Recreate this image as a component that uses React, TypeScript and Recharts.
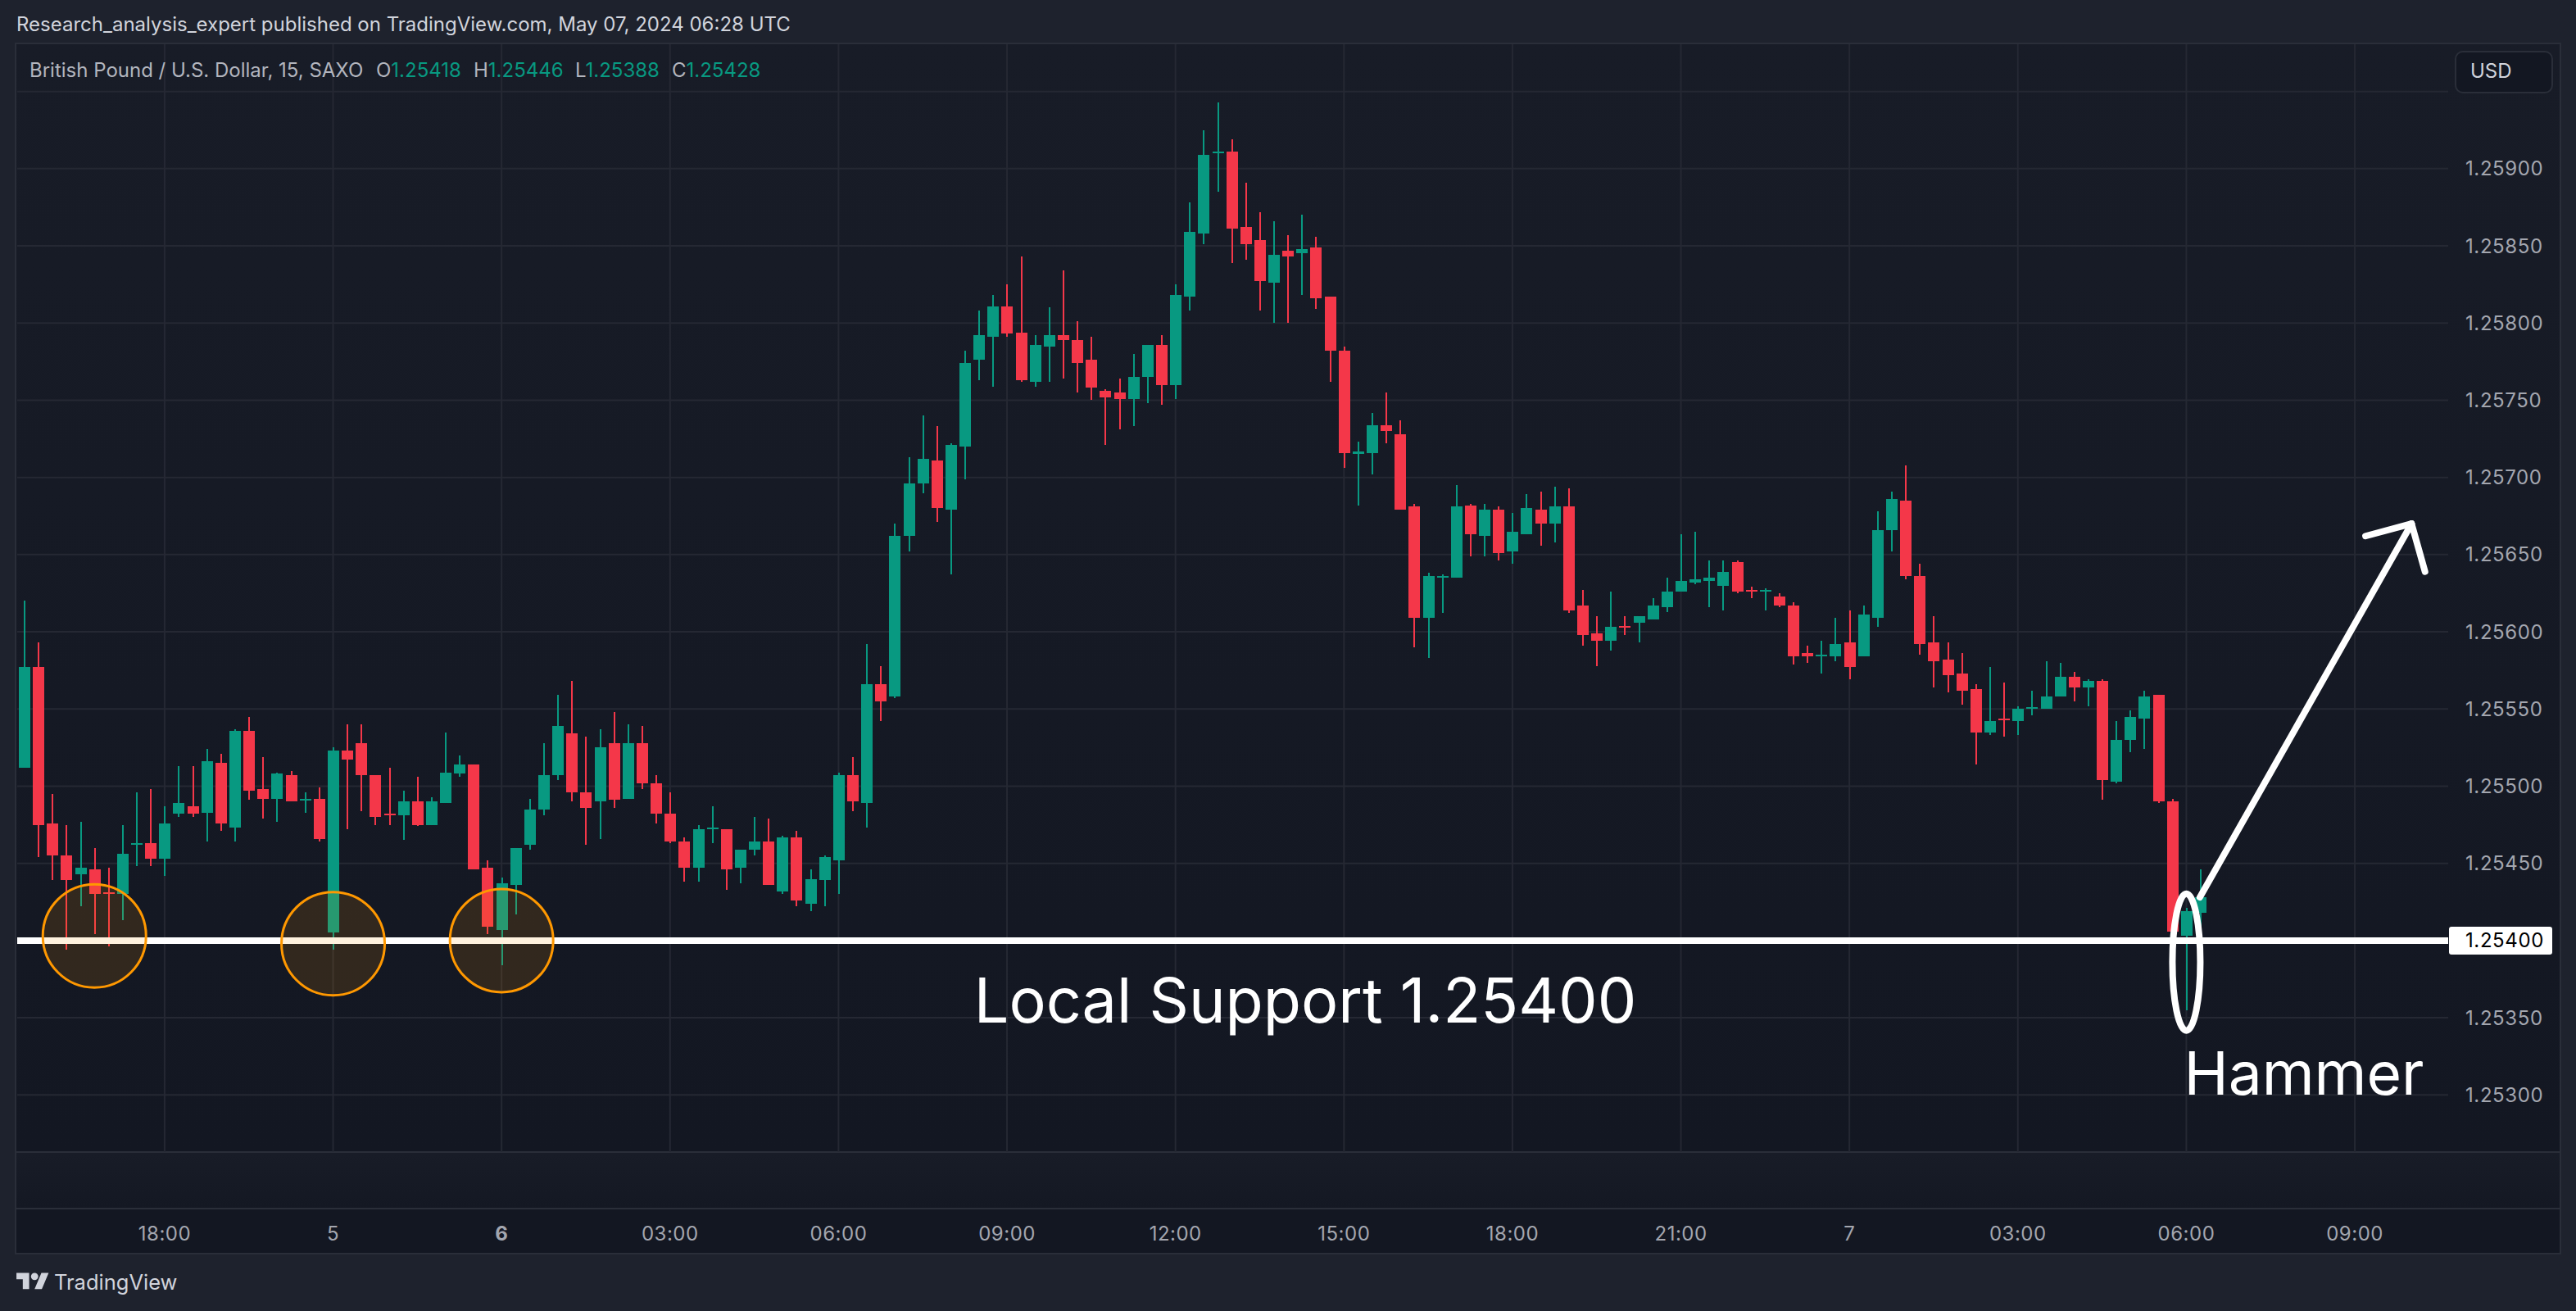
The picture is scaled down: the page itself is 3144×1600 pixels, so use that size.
import {
  Bar,
  CartesianGrid,
  ComposedChart,
  ReferenceDot,
  ReferenceLine,
  XAxis,
  YAxis,
} from "recharts";

const opens = [
  1.25512, 1.25577, 1.25476, 1.25455, 1.25443, 1.25446, 1.25431, 1.2543, 1.25462, 1.25463,
  1.25453, 1.25482, 1.25487, 1.25483, 1.25515, 1.25473, 1.25536, 1.25498, 1.25492, 1.25507,
  1.25491, 1.25492, 1.25405, 1.25523, 1.25528, 1.25507, 1.25482, 1.25481, 1.2549, 1.25475,
  1.25489, 1.25508, 1.25514, 1.25447, 1.25407, 1.25436, 1.25462, 1.25485, 1.25507, 1.25534,
  1.25496, 1.2549, 1.25528, 1.25492, 1.25528, 1.25502, 1.25482, 1.25464, 1.25447, 1.25472,
  1.25472, 1.25447, 1.25459, 1.25464, 1.25432, 1.25467, 1.25424, 1.25439, 1.25452, 1.25507,
  1.25489, 1.25566, 1.25558, 1.25662, 1.25696, 1.25711, 1.25679, 1.2572, 1.25776, 1.25791,
  1.25811, 1.25794, 1.25762, 1.25785, 1.25792, 1.25789, 1.25776, 1.25756, 1.25755, 1.25751,
  1.25765, 1.25786, 1.2576, 1.25817, 1.25858, 1.2591, 1.25911, 1.25862, 1.25854, 1.25826,
  1.25847, 1.25845, 1.25849, 1.25817, 1.25782, 1.25715, 1.25716, 1.25734, 1.25728, 1.25681,
  1.25609, 1.25635, 1.25635, 1.25682, 1.25662, 1.25679, 1.25652, 1.25663, 1.25679, 1.2567,
  1.25681, 1.25617, 1.25599, 1.25594, 1.25604, 1.25606, 1.25608, 1.25616, 1.25626, 1.25632,
  1.25633, 1.2563, 1.25645, 1.25627, 1.25626, 1.25623, 1.25617, 1.25586, 1.25584, 1.25584,
  1.25593, 1.25584, 1.25609, 1.25666, 1.25685, 1.25636, 1.25593, 1.25582, 1.25573, 1.25563,
  1.25535, 1.25544, 1.25542, 1.2555, 1.2555, 1.25558, 1.25571, 1.25564, 1.25568, 1.25503,
  1.2553, 1.25544, 1.25559, 1.2549, 1.25403, 1.25418,
];

const highs = [
  1.2562, 1.25593, 1.25495, 1.25475, 1.25477, 1.2546, 1.25447, 1.25475, 1.25496, 1.25498,
  1.25487, 1.25513, 1.25513, 1.25524, 1.25521, 1.25537, 1.25545, 1.25519, 1.25509, 1.2551,
  1.25496, 1.25499, 1.25525, 1.2554, 1.2554, 1.25507, 1.25512, 1.25497, 1.25506, 1.25493,
  1.25535, 1.2552, 1.25514, 1.25452, 1.25441, 1.2546, 1.25492, 1.25528, 1.25559, 1.25568,
  1.25532, 1.25537, 1.25548, 1.2554, 1.25539, 1.25507, 1.25496, 1.25467, 1.25475, 1.25487,
  1.25472, 1.25459, 1.2548, 1.25479, 1.25468, 1.25471, 1.25446, 1.25455, 1.25509, 1.25519,
  1.25592, 1.25578, 1.2567, 1.25713, 1.2574, 1.25733, 1.25722, 1.25782, 1.25808, 1.25818,
  1.25825, 1.25843, 1.25792, 1.2581, 1.25834, 1.25801, 1.25791, 1.25757, 1.25764, 1.2578,
  1.25786, 1.25792, 1.25825, 1.25878, 1.25925, 1.25943, 1.25919, 1.25891, 1.25872, 1.25866,
  1.25857, 1.2587, 1.25856, 1.25817, 1.25785, 1.25723, 1.25742, 1.25755, 1.25737, 1.25683,
  1.25638, 1.25637, 1.25695, 1.25683, 1.25683, 1.25681, 1.25677, 1.25689, 1.25691, 1.25694,
  1.25693, 1.25627, 1.2561, 1.25626, 1.2561, 1.2561, 1.25622, 1.25635, 1.25663, 1.25665,
  1.25646, 1.25646, 1.25646, 1.25629, 1.25628, 1.25625, 1.25619, 1.25591, 1.25594, 1.25609,
  1.25614, 1.25617, 1.25678, 1.25691, 1.25708, 1.25644, 1.2561, 1.25593, 1.25586, 1.25566,
  1.25577, 1.25567, 1.25552, 1.25562, 1.25581, 1.2558, 1.25574, 1.25569, 1.25569, 1.25542,
  1.25549, 1.25562, 1.25559, 1.25492, 1.25421, 1.25446,
];

const lows = [
  1.25512, 1.25454, 1.25439, 1.25394, 1.25422, 1.25404, 1.25396, 1.25413, 1.25448, 1.25448,
  1.25442, 1.2548, 1.2548, 1.25464, 1.25471, 1.25464, 1.25491, 1.25479, 1.25477, 1.2549,
  1.25483, 1.25464, 1.25394, 1.25472, 1.25484, 1.25475, 1.25475, 1.25465, 1.25474, 1.25475,
  1.25489, 1.25506, 1.25446, 1.25404, 1.25384, 1.25417, 1.25459, 1.25481, 1.25504, 1.2549,
  1.25462, 1.25466, 1.25486, 1.25492, 1.25498, 1.25476, 1.25463, 1.25438, 1.25438, 1.25463,
  1.25433, 1.25437, 1.25455, 1.25436, 1.2543, 1.25422, 1.25419, 1.25422, 1.2543, 1.25484,
  1.25473, 1.25542, 1.25557, 1.25652, 1.2569, 1.25671, 1.25637, 1.25699, 1.25763, 1.25759,
  1.25791, 1.25762, 1.25759, 1.25762, 1.25764, 1.25755, 1.2575, 1.25721, 1.25731, 1.25733,
  1.25748, 1.25747, 1.25751, 1.25808, 1.25851, 1.25885, 1.25839, 1.25841, 1.25808, 1.258,
  1.258, 1.25818, 1.25809, 1.25762, 1.25706, 1.25682, 1.25702, 1.25722, 1.25679, 1.2559,
  1.25583, 1.25612, 1.25635, 1.25649, 1.25649, 1.25646, 1.25644, 1.25663, 1.25656, 1.25658,
  1.25612, 1.25591, 1.25578, 1.25588, 1.25598, 1.25593, 1.25608, 1.25613, 1.25626, 1.25631,
  1.25616, 1.25614, 1.25625, 1.25622, 1.25614, 1.25616, 1.25579, 1.2558, 1.25573, 1.25581,
  1.25569, 1.25584, 1.25603, 1.25652, 1.25634, 1.25585, 1.25564, 1.25561, 1.25553, 1.25514,
  1.25533, 1.25532, 1.25533, 1.25546, 1.2555, 1.25558, 1.25555, 1.25552, 1.25491, 1.25502,
  1.25522, 1.25524, 1.25489, 1.25406, 1.25355, 1.25388,
];

const closes = [
  1.25577, 1.25475, 1.25455, 1.25439, 1.25447, 1.2543, 1.2543, 1.25456, 1.25463, 1.25453,
  1.25476, 1.25489, 1.25482, 1.25516, 1.25476, 1.25536, 1.25497, 1.25492, 1.25508, 1.2549,
  1.25492, 1.25466, 1.25523, 1.25517, 1.25507, 1.2548, 1.25481, 1.2549, 1.25475, 1.2549,
  1.25509, 1.25514, 1.25446, 1.25409, 1.25437, 1.2546, 1.25485, 1.25507, 1.25539, 1.25496,
  1.25486, 1.25525, 1.25491, 1.25528, 1.25502, 1.25482, 1.25464, 1.25447, 1.25472, 1.25473,
  1.25446, 1.25459, 1.25464, 1.25436, 1.25467, 1.25426, 1.2544, 1.25454, 1.25507, 1.2549,
  1.25566, 1.25555, 1.25662, 1.25696, 1.25712, 1.2568, 1.25721, 1.25774, 1.25792, 1.25811,
  1.25793, 1.25763, 1.25786, 1.25792, 1.25789, 1.25774, 1.25758, 1.25752, 1.25751, 1.25765,
  1.25786, 1.2576, 1.25818, 1.25859, 1.25909, 1.25911, 1.25861, 1.25851, 1.25827, 1.25844,
  1.25843, 1.25848, 1.25816, 1.25782, 1.25716, 1.25717, 1.25734, 1.2573, 1.25679, 1.25609,
  1.25636, 1.25636, 1.25681, 1.25663, 1.25679, 1.25651, 1.25665, 1.2568, 1.2567, 1.25681,
  1.25614, 1.25598, 1.25594, 1.25603, 1.25603, 1.2561, 1.25617, 1.25626, 1.25633, 1.25634,
  1.25635, 1.25639, 1.25626, 1.25626, 1.25627, 1.25617, 1.25584, 1.25584, 1.25585, 1.25592,
  1.25577, 1.25611, 1.25666, 1.25686, 1.25636, 1.25592, 1.25581, 1.25572, 1.25562, 1.25535,
  1.25542, 1.25543, 1.2555, 1.25551, 1.25558, 1.25571, 1.25564, 1.25568, 1.25504, 1.2553,
  1.25545, 1.25558, 1.2549, 1.25406, 1.25419, 1.25428,
];

const timeTicks = [10, 22, 34, 46, 58, 70, 82, 94, 106, 118, 130, 142, 154, 166];
const timeLabels = ["18:00", "5", "6", "03:00", "06:00", "09:00", "12:00", "15:00", "18:00", "21:00", "7", "03:00", "06:00", "09:00"];
const priceTicks = [1.253, 1.2535, 1.254, 1.2545, 1.255, 1.2555, 1.256, 1.2565, 1.257, 1.2575, 1.258, 1.2585, 1.259, 1.2595];

const supportLevel = 1.254;
const touches = [
  { bar: 5, price: 1.25403 },
  { bar: 22, price: 1.25398 },
  { bar: 34, price: 1.254 },
];

const candles = opens.map((open, i) => ({
  bar: i,
  open,
  high: highs[i],
  low: lows[i],
  close: closes[i],
}));

const GREEN = "#089981";
const RED = "#F43749";
const FONT = "Inter, 'Noto Sans', sans-serif";

function Candle({ x, y, width, height, payload }: any) {
  const { open, high, low, close } = payload;
  const color = close >= open ? GREEN : RED;
  const perUnit = high > low ? height / (high - low) : 0;
  const bodyTop = y + (high - Math.max(open, close)) * perUnit;
  const bodyHeight = Math.max(2, Math.abs(open - close) * perUnit);
  const mid = Math.round(x + width / 2);
  return (
    <g shapeRendering="crispEdges">
      <rect x={mid - 1} y={y} width={2} height={height} fill={color} />
      <rect x={mid - 7} y={bodyTop} width={14} height={bodyHeight} fill={color} />
    </g>
  );
}

function TimeTick({ x, y, payload }: any) {
  const label = timeLabels[timeTicks.indexOf(payload.value)];
  return (
    <text
      x={x}
      y={y}
      textAnchor="middle"
      dominantBaseline="central"
      fontSize={24}
      letterSpacing={0.5}
      fontFamily={FONT}
      fontWeight={label === "6" ? 700 : 400}
      fill="#A3A6AF"
    >
      {label}
    </text>
  );
}

function PriceTick({ x, y, payload }: any) {
  const value = payload.value;
  if (value === 1.2595) return null;
  const isSupport = value === supportLevel;
  return (
    <g>
      {isSupport && <rect x={x - 20} y={y - 17} width={126} height={34} rx={3} fill="#FFFFFF" />}
      <text
        x={x}
        y={y}
        dominantBaseline="central"
        fontSize={24}
        letterSpacing={0.6}
        fontFamily={FONT}
        fill={isSupport ? "#000000" : "#A3A6AF"}
      >
        {value.toFixed(5)}
      </text>
    </g>
  );
}

function Note({ cx, cy, text, size }: any) {
  return (
    <text x={cx} y={cy} textAnchor="middle" fontSize={size} fontFamily={FONT} fill="#FFFFFF">
      {text}
    </text>
  );
}

function Loop({ cx, cy }: any) {
  return <ellipse cx={cx} cy={cy} rx={17} ry={83.5} fill="none" stroke="#FFFFFF" strokeWidth={8} />;
}

const abs = (left: number, top: number, width: number, height: number) =>
  ({ position: "absolute", left, top, width, height }) as const;

const textRow = (left: number, top: number, size: number, color: string) =>
  ({
    position: "absolute",
    left,
    top,
    fontSize: size,
    lineHeight: "32px",
    color,
    fontFamily: FONT,
    whiteSpace: "pre",
  }) as const;

export default function App() {
  return (
    <div style={{ ...abs(0, 0, 3144, 1600), background: "#1E222D", overflow: "hidden" }}>
      <div style={{ ...abs(20, 53, 3104, 1353), background: "linear-gradient(#181C27, #131722)" }} />
      <div style={{ ...abs(20, 1407, 3104, 68), background: "linear-gradient(#181C27, #141823)" }} />
      <div style={{ ...abs(20, 1476, 3104, 53), background: "#131722" }} />
      <div style={{ ...abs(18, 52, 3108, 1479), border: "2px solid #2A2E39", boxSizing: "border-box" }} />
      <div style={{ ...abs(20, 1405, 3104, 2), background: "#2A2E39" }} />
      <div style={{ ...abs(20, 1474, 3104, 2), background: "#2A2E39" }} />

      <div style={{ position: "absolute", left: 0, top: 0 }}>
        <ComposedChart
          width={3144}
          height={1600}
          data={candles}
          margin={{ top: 54, right: 0, bottom: 70, left: 21 }}
        >
          <CartesianGrid stroke="#252833" strokeWidth={2} syncWithTicks />
          <XAxis
            dataKey="bar"
            type="number"
            domain={[-0.5, 172.65]}
            ticks={timeTicks}
            interval={0}
            height={124}
            axisLine={false}
            tickLine={false}
            tickMargin={93}
            tick={<TimeTick />}
          />
          <YAxis
            orientation="right"
            domain={[1.25263, 1.259806]}
            ticks={priceTicks}
            allowDataOverflow
            interval={0}
            width={156}
            axisLine={false}
            tickLine={false}
            tickMargin={15}
            tick={<PriceTick />}
          />
          <Bar
            dataKey={(d: any) => [d.low, d.high]}
            barSize={14}
            shape={<Candle />}
            isAnimationActive={false}
          />
          <ReferenceLine y={supportLevel} stroke="#FFFFFF" strokeWidth={8} />
          {touches.map((t) => (
            <ReferenceDot
              key={t.bar}
              x={t.bar}
              y={t.price}
              r={63}
              fill="#FF9800"
              fillOpacity={0.13}
              stroke="#FF9800"
              strokeWidth={3}
            />
          ))}
          <ReferenceDot x={154} y={1.25386} shape={<Loop />} />
          <ReferenceLine
            segment={[{ x: 154.96, y: 1.25428 }, { x: 170.04, y: 1.2567 }]}
            stroke="#FFFFFF"
            strokeWidth={8}
            strokeLinecap="round"
          />
          <ReferenceLine
            segment={[{ x: 166.76, y: 1.25662 }, { x: 170.04, y: 1.2567 }]}
            stroke="#FFFFFF"
            strokeWidth={8}
            strokeLinecap="round"
          />
          <ReferenceLine
            segment={[{ x: 171, y: 1.25639 }, { x: 170.04, y: 1.2567 }]}
            stroke="#FFFFFF"
            strokeWidth={8}
            strokeLinecap="round"
          />
          <ReferenceDot x={91.24} y={1.25347} shape={<Note text="Local Support 1.25400" size={75.5} />} />
          <ReferenceDot x={162.38} y={1.253} shape={<Note text="Hammer" size={73} />} />
        </ComposedChart>
      </div>

      <div style={textRow(20, 14, 24, "#D1D4DC")}>
        Research_analysis_expert published on TradingView.com, May 07, 2024 06:28 UTC
      </div>
      <div style={textRow(36, 70, 24, "#B2B5BE")}>British Pound / U.S. Dollar, 15, SAXO</div>
      {[
        ["O", "1.25418", 459],
        ["H", "1.25446", 578],
        ["L", "1.25388", 702],
        ["C", "1.25428", 820],
      ].map(([name, value, left]) => (
        <div key={name as string} style={textRow(left as number, 70, 24, "#B2B5BE")}>
          {name}
          <span style={{ color: GREEN }}>{value}</span>
        </div>
      ))}

      <div
        style={{
          ...abs(2996, 62, 120, 52),
          background: "#131722",
          border: "2px solid #2A2E39",
          borderRadius: 10,
          boxSizing: "border-box",
        }}
      />
      <div style={textRow(3015, 71, 24, "#D1D4DC")}>USD</div>

      <svg style={{ position: "absolute", left: 20, top: 1549 }} width={40} height={31} viewBox="0 0 36 28">
        <path d="M14 22H7V11H0V4h14v18zM28 22h-8l7.5-18h8L28 22z" fill="#D1D4DC" />
        <circle cx={20} cy={8} r={4} fill="#D1D4DC" />
      </svg>
      <div style={textRow(66, 1549, 25.5, "#D1D4DC")}>TradingView</div>
    </div>
  );
}
